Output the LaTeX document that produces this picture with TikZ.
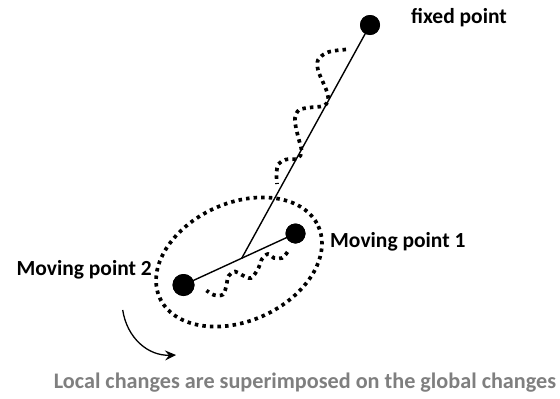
\documentclass[tikz,border=0pt]{standalone}
\usepackage{fontspec}
\setmainfont{Carlito}
\usetikzlibrary{arrows.meta,calc}
\definecolor{captiongrey}{HTML}{7F7F7F}
\tikzset{
  dot/.style={circle,fill=black,inner sep=0pt,minimum size=#1},
  lbl/.style={font=\fontsize{21.5}{24}\selectfont\bfseries,inner sep=0pt},
  dotline/.style={line width=3.7pt,dash pattern=on 3.5pt off 4.1pt},
  bar/.style={line width=1.4pt}
}
\begin{document}
\begin{tikzpicture}[x=1pt,y=-1pt]
\useasboundingbox (0,0) rectangle (560,399);
% points
\node[dot=20pt] (fixed) at (370,25) {};
\node[dot=20pt] (mp1) at (295.5,233.5) {};
\node[dot=22pt] (mp2) at (183.5,285) {};
\coordinate (junc) at ($(mp2)!0.52!(mp1)$);
% ellipse (local region)
\coordinate (reg) at (239,262);
\draw[dotline] (reg) [rotate around={24.3:(reg)}] ellipse [x radius=87,y radius=59];
% solid lines
\draw[bar] (fixed.center) -- (junc);
\draw[bar] (mp2.center) -- (mp1.center);
\node[dot=20pt] at (fixed.center) {};
\node[dot=20pt] at (mp1.center) {};
\node[dot=22pt] at (mp2.center) {};
% global wavy path
\draw[dotline] plot[smooth,tension=0.55] coordinates {
 (346,49.5) (336,50.5) (326,53) (318,60) (318,70) (322,80) (327,92) (328,101) (323,106)
 (310,107.5) (299,110) (295,118) (296,128) (299,140) (301.5,151) (298,158.5)
 (286,159.5) (278.5,164) (276.5,173) (277,184)};
% local wavy path
\draw[dotline] plot[smooth,tension=0.55] coordinates {
 (287.5,252) (282,258) (274,258) (268,254) (262,259) (258.5,268) (251,278)
 (242,275) (235,271.5) (228.5,276) (226.5,285) (223,294.5) (214,295) (206.5,290.5)};
% rotation arrow
\coordinate (arrS) at (122.7,310);
\coordinate (arrE) at (176,355);
\draw[line width=1.3pt,-{Stealth[length=11pt,width=10pt,inset=4pt]}] (arrS) .. controls (127,338) and (148,356) .. (arrE);
% labels
\node[lbl,anchor=west] (lfixed) at (411,18) {fixed point};
\node[lbl,anchor=west] (lmp1) at (330,242) {Moving point 1};
\node[lbl,anchor=east] (lmp2) at (152,270) {Moving point 2};
\node[lbl,text=captiongrey,font=\fontsize{22.2}{24}\selectfont\bfseries] (cap) at (305,383) {Local changes are superimposed on the global changes};
\end{tikzpicture}
\end{document}
